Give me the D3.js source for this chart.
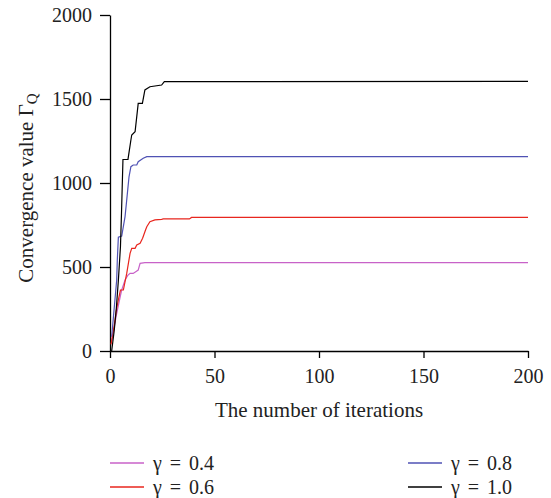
<!DOCTYPE html>
<html>
<head>
<meta charset="utf-8">
<script src="https://cdn.jsdelivr.net/npm/d3@7"></script>
<style>
  body { margin: 0; background: #fff; }
  text { font-family: "Liberation Serif", "DejaVu Serif", serif; }
</style>
</head>
<body>
<svg id="chart" width="551" height="498"></svg>
<script>
// iteration / value pairs, one list per gamma
const labels = ["\u03b3 = 0.4", "\u03b3 = 0.6", "\u03b3 = 0.8", "\u03b3 = 1.0"];
const colors = ["#c862c8", "#e8261e", "#4f52b4", "#000000"];

const iterG04 = [0.8, 2, 3, 4, 5, 5.6, 7.2, 8.5, 9.6, 11.1, 12.3, 13.5, 14.4, 16.7, 200];
const valG04 = [60, 140, 210, 270, 330, 363, 423, 450, 462, 462, 472, 482, 522, 526, 526];

const iterG06 = [0.5, 2, 3, 4, 5, 6.4, 8, 8.8, 9.6, 10.4, 12, 12.8, 14.4, 15.6, 17, 17.6, 19.1, 21.5, 24.7, 25.5, 38, 39, 200];
const valG06 = [40, 150, 240, 304, 363, 363, 462, 522, 581, 611, 611, 631, 641, 671, 720, 740, 770, 780, 784, 786, 786, 795, 795];

const iterG08 = [0.8, 3.2, 3.5, 4, 5.6, 7.2, 8, 9.1, 10, 11.1, 12.8, 13.5, 15.9, 17.6, 200];
const valG08 = [85, 423, 542, 677, 684, 800, 899, 1037, 1097, 1107, 1107, 1127, 1147, 1157, 1157];

const iterG10 = [0.8, 2, 3, 4, 5, 5.5, 6.2, 8.6, 10, 10.4, 12, 13.5, 15.5, 16.7, 19.1, 24.7, 26, 200];
const valG10 = [0, 120, 250, 420, 620, 820, 1140, 1141, 1256, 1286, 1305, 1474, 1474, 1554, 1573, 1583, 1603, 1605];

const xTicks = [0, 50, 100, 150, 200];
const yTicks = [0, 500, 1000, 1500, 2000];

const series = [
  { iters: iterG04, vals: valG04 },
  { iters: iterG06, vals: valG06 },
  { iters: iterG08, vals: valG08 },
  { iters: iterG10, vals: valG10 }
];

const svg = d3.select("#chart");
const margin = { left: 110, right: 528, top: 15, bottom: 351 };
const serif = "'Liberation Serif', 'DejaVu Serif', serif";

const x = d3.scaleLinear().domain([0, 200]).range([margin.left, margin.right]);
const y = d3.scaleLinear().domain([0, 2000]).range([margin.bottom, margin.top]);

// axes
const xAxis = svg.append("g")
  .attr("transform", `translate(0,${margin.bottom})`)
  .call(d3.axisBottom(x).tickValues(xTicks).tickFormat(d3.format("d"))
    .tickSize(7).tickSizeOuter(0).tickPadding(11));
const yAxis = svg.append("g")
  .attr("transform", `translate(${margin.left},0)`)
  .call(d3.axisLeft(y).tickValues(yTicks).tickFormat(d3.format("d"))
    .tickSize(10).tickSizeOuter(0).tickPadding(8));

[xAxis, yAxis].forEach(a => {
  a.attr("font-family", serif).attr("font-size", 20);
  a.select(".domain").attr("stroke", "#000").attr("stroke-width", 1.3);
  a.selectAll(".tick line").attr("stroke", "#000").attr("stroke-width", 1.3);
  a.selectAll(".tick text").attr("fill", "#222");
});

// lines
const line = d3.line()
  .x(d => x(d[0]))
  .y(d => y(d[1]));

series.forEach((s, i) => {
  const pts = s.iters.map((it, j) => [it, s.vals[j]]);
  svg.append("path")
    .datum(pts)
    .attr("fill", "none")
    .attr("stroke", colors[i])
    .attr("stroke-width", 1.2)
    .attr("d", line);
});

// axis titles
svg.append("text")
  .attr("x", 319)
  .attr("y", 417)
  .attr("text-anchor", "middle")
  .attr("fill", "#222")
  .style("font-size", "21px")
  .text("The number of iterations");

const yTitle = svg.append("text")
  .attr("transform", "translate(33,188) rotate(-90)")
  .attr("text-anchor", "middle")
  .attr("fill", "#222")
  .style("font-size", "21px");
yTitle.append("tspan").text("Convergence value \u0393");
yTitle.append("tspan").attr("dy", 4).style("font-size", "15px").text("Q");

// legend
const legendPos = [[110, 463], [110, 487], [408, 463], [408, 487]];
labels.forEach((lab, i) => {
  const g = svg.append("g").attr("transform", `translate(${legendPos[i][0]},${legendPos[i][1]})`);
  g.append("line")
    .attr("x1", 0).attr("x2", 34)
    .attr("stroke", colors[i]).attr("stroke-width", 1.3);
  g.append("text")
    .attr("x", 43).attr("y", 7)
    .attr("fill", "#222")
    .style("font-size", "20px")
    .style("word-spacing", "3px")
    .text(lab);
});
</script>
</body>
</html>
